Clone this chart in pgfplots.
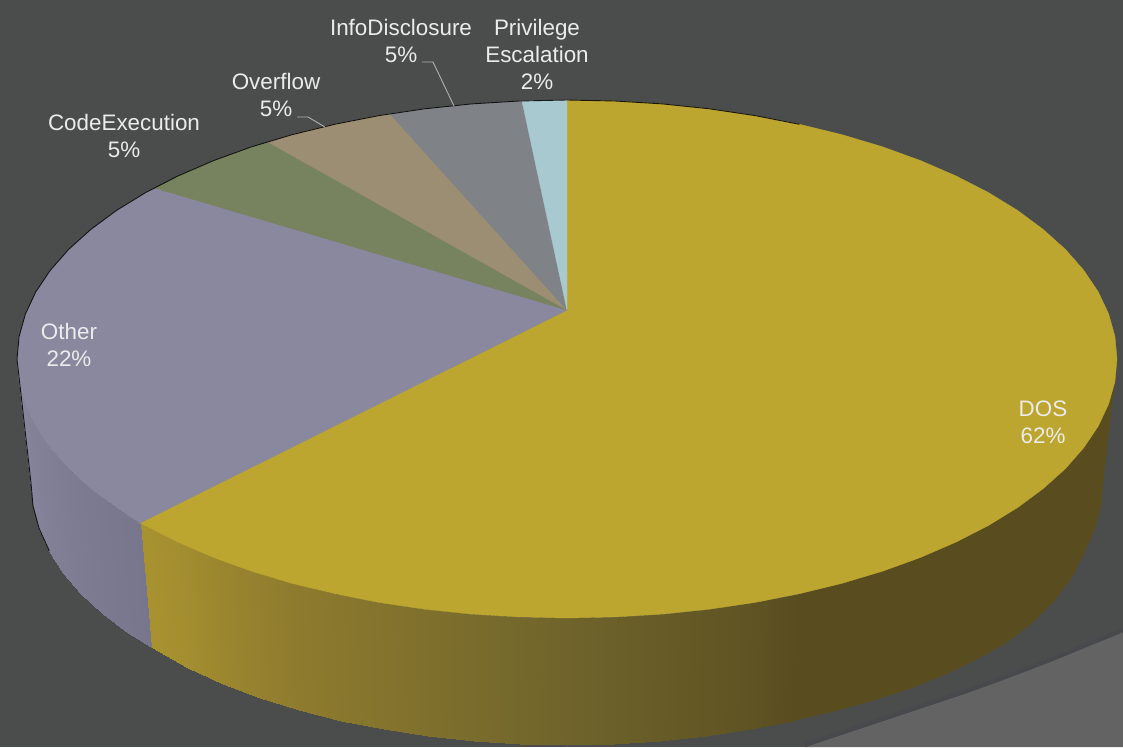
\documentclass[border=0pt]{standalone}
\usepackage{fontspec}
\setmainfont{Liberation Sans}
\usepackage{pgfplots}
\pgfplotsset{compat=1.18}
\definecolor{bg}{RGB}{75,77,76}
\definecolor{bgedge}{RGB}{71,73,77}
\definecolor{floor}{RGB}{99,99,99}
\definecolor{dos}{RGB}{188,166,47}
\definecolor{dosdark}{RGB}{89,77,32}
\definecolor{other}{RGB}{138,136,158}
\definecolor{code}{RGB}{119,131,95}
\definecolor{overflow}{RGB}{156,142,114}
\definecolor{info}{RGB}{127,131,136}
\definecolor{priv}{RGB}{169,201,209}
\definecolor{lab}{RGB}{235,235,235}
\definecolor{leader}{RGB}{176,176,176}
\pgfplotsset{
  colormap={goldside}{rgb255=(89,77,32) rgb255=(111,100,43) rgb255=(141,122,46) rgb255=(168,146,48)},
  colormap={greyside}{rgb255=(120,118,140) rgb255=(135,133,155)},
  slice/.style={fill=#1, draw=#1, line width=0.4pt},
  strip/.style={patch, patch type=rectangle, shader=interp, point meta=explicit}
}
\tikzset{lbl/.style={font=\fontsize{22.4}{26.6}\selectfont, text=lab, align=center, inner sep=0pt}}
\begin{document}
\begin{tikzpicture}
\begin{axis}[
  scale only axis, width=1123pt, height=747pt,
  xmin=0, xmax=1123, ymin=0, ymax=747, y dir=reverse,
  hide axis, point meta min=0, point meta max=1,
  clip=true
]
% backdrop and the pale floor at lower right
\addplot[fill=bg, draw=none] coordinates {(0,0) (1123,0) (1123,747) (0,747)};
\addplot[fill=floor, draw=none] coordinates {(1123,632) (1050,662) (1000,681) (967,693) (880,722) (805,747) (1123,747)};
\addplot[draw=bgedge, line width=4pt] coordinates {(1123,630) (1050,660) (1000,679) (967,691) (880,720) (805,745)};

% shaded wall under the DOS slice
\addplot[fill=dosdark, draw=dosdark] coordinates {
(1117,359) (1103,483) (1101,505.8) (1094.9,528.5) (1084.7,552) (1072,577) (1055,600) (1033,622) (1006,643) (977,659) (946,674) (911.5,688) (874.4,700) (835,711) (793.5,720.5) (799.4,593.7)};
\addplot[strip, colormap name=goldside] table[meta=c] {
x y c
799.4 593.7 0.0
755.1 602.4 0.09
750.3 729.2 0.09
793.5 720.5 0.0
755.1 602.4 0.09
709.4 609.2 0.15
705.7 736.1 0.15
750.3 729.2 0.09
709.4 609.2 0.15
662.5 614.1 0.21
660.1 741 0.21
705.7 736.1 0.15
662.5 614.1 0.21
614.9 617 0.27
613.7 744 0.27
660.1 741 0.21
614.9 617 0.27
567 618 0.333
567 745 0.333
613.7 744 0.27
567 618 0.333
519.1 617 0.395
520.3 744 0.395
567 745 0.333
519.1 617 0.395
471.5 614.1 0.45
473.9 741 0.45
520.3 744 0.395
471.5 614.1 0.45
424.6 609.2 0.51
428.3 736.1 0.51
473.9 741 0.45
424.6 609.2 0.51
378.9 602.4 0.57
383.7 729.2 0.57
428.3 736.1 0.51
378.9 602.4 0.57
334.6 593.7 0.625
340.5 720.5 0.625
383.7 729.2 0.57
334.6 593.7 0.625
292 583.3 0.68
299 709.9 0.68
340.5 720.5 0.625
292 583.3 0.68
251.5 571.2 0.76
259.6 697.6 0.76
299 709.9 0.68
251.5 571.2 0.76
213.5 557.4 0.85
222.5 683.7 0.85
259.6 697.6 0.76
213.5 557.4 0.85
178.1 542.1 0.94
188 668.3 0.94
222.5 683.7 0.85
178.1 542.1 0.94
140 523 1.0
151 647 1.0
188 668.3 0.94
};
% wall under the Other slice
\addplot[strip, colormap name=greyside] table[meta=c] {
x y c
140 523 0.0
116.5 507.6 0.12
127.9 633.3 0.12
151 647 0.0
116.5 507.6 0.12
90.7 488.5 0.25
102.8 614 0.25
127.9 633.3 0.12
90.7 488.5 0.25
68.5 468.5 0.4
81.2 593.7 0.4
102.8 614 0.25
68.5 468.5 0.4
50.2 447.6 0.55
63.3 572.6 0.55
81.2 593.7 0.4
50.2 447.6 0.55
35.7 426 0.7
49.3 550.8 0.7
63.3 572.6 0.55
35.7 426 0.7
25.4 404 0.85
39.1 528.5 0.85
49.3 550.8 0.7
25.4 404 0.85
19.1 381.6 0.95
33 505.8 0.95
39.1 528.5 0.85
19.1 381.6 0.95
17 359 1
31 483 1
33 505.8 0.95
};

% top faces of the slices, clockwise from twelve o'clock
\addplot[slice=dos] coordinates {
(567,310) (567,100) (614.9,101) (662.5,103.9) (709.4,108.8) (755.1,115.6) (799.4,124.3) (842,134.7) (882.5,146.8) (920.5,160.6) (955.9,175.9) (988.3,192.5) (1017.5,210.4) (1043.3,229.5) (1065.5,249.5) (1083.8,270.4) (1098.3,292) (1108.6,314) (1114.9,336.4) (1117,359) (1114.9,381.6) (1108.6,404) (1098.3,426) (1083.8,447.6) (1065.5,468.5) (1043.3,488.5) (1017.5,507.6) (988.3,525.5) (955.9,542.1) (920.5,557.4) (882.5,571.2) (842,583.3) (799.4,593.7) (755.1,602.4) (709.4,609.2) (662.5,614.1) (614.9,617) (567,618) (519.1,617) (471.5,614.1) (424.6,609.2) (378.9,602.4) (334.6,593.7) (292,583.3) (251.5,571.2) (213.5,557.4) (178.1,542.1) (140,523) (567,310)};
\addplot[slice=other] coordinates {
(567,310) (140,523) (116.5,507.6) (90.7,488.5) (68.5,468.5) (50.2,447.6) (35.7,426) (25.4,404) (19.1,381.6) (17,359) (19.1,336.4) (25.4,314) (35.7,292) (50.2,270.4) (68.5,249.5) (90.7,229.5) (116.5,210.4) (145.7,192.5) (155,188) (567,310)};
\addplot[slice=code] coordinates {
(567,310) (155,188) (178.1,175.9) (213.5,160.6) (251.5,146.8) (268,142) (567,310)};
\addplot[slice=overflow] coordinates {
(567,310) (268,142) (292,134.7) (334.6,124.3) (378.9,115.6) (390,113.8) (567,310)};
\addplot[slice=info] coordinates {
(567,310) (390,113.8) (424.6,108.8) (471.5,103.9) (519.1,101) (522,100.9) (567,310)};
\addplot[slice=priv] coordinates {
(567,310) (522,100.9) (567,100) (567,310)};

% dark rim along the far edge and the left side
\addplot[draw=black, line width=0.9pt, opacity=0.85] coordinates {
(49.3,550.8) (39.1,528.5) (33,505.8) (31,483) (17,359) (19.1,336.4) (25.4,314) (35.7,292) (50.2,270.4) (68.5,249.5) (90.7,229.5) (116.5,210.4) (145.7,192.5) (178.1,175.9) (213.5,160.6) (251.5,146.8) (292,134.7) (334.6,124.3) (378.9,115.6) (424.6,108.8) (471.5,103.9) (519.1,101) (567,100) (614.9,101) (662.5,103.9) (709.4,108.8) (755.1,115.6) (799.4,124.3)};

% leader lines
\addplot[draw=leader, line width=0.9pt] coordinates {(422,62) (433,62) (454,106)};
\addplot[draw=leader, line width=0.9pt] coordinates {(297,117) (308,117) (325,127)};

% slice labels
\node[lbl] at (axis cs:401,41) {InfoDisclosure\\5\%};
\node[lbl] at (axis cs:537,54.5) {Privilege\\Escalation\\2\%};
\node[lbl] at (axis cs:276,95) {Overflow\\5\%};
\node[lbl] at (axis cs:124,136) {CodeExecution\\5\%};
\node[lbl] at (axis cs:69,345) {Other\\22\%};
\node[lbl] at (axis cs:1043,422) {DOS\\62\%};
\end{axis}
\end{tikzpicture}
\end{document}
